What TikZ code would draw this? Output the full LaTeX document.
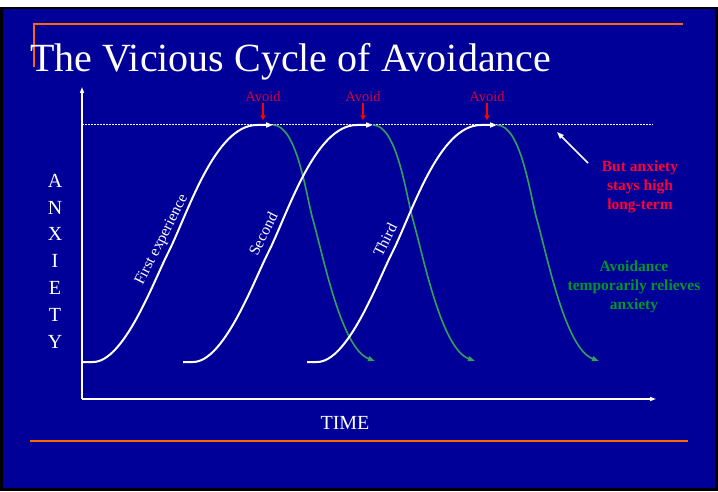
\documentclass[tikz,border=0pt]{standalone}
\usepackage{fontspec}
\setmainfont{Liberation Serif}
\usetikzlibrary{arrows.meta}

\definecolor{slideblue}{RGB}{0,0,153}
\definecolor{ruleorange}{RGB}{255,102,0}
\definecolor{avoidred}{RGB}{214,0,51}
\definecolor{alarmred}{RGB}{255,0,51}
\definecolor{dropgreen}{RGB}{51,160,90}
\definecolor{reliefgreen}{RGB}{0,150,40}

\begin{document}
\begin{tikzpicture}[
        x=1pt, y=1pt,
        rule/.style={draw=ruleorange, line width=1.5pt},
        axis/.style={
            draw=white, line width=1.3pt,
            -{Triangle[length=6pt,width=4pt]}
        },
        ceiling/.style={draw=white, line width=1pt, dash pattern=on 1.5pt off 1.5pt},
        rise/.style={
            draw=white, line width=2pt,
            -{Triangle[length=7pt,width=5pt]}
        },
        drop/.style={
            draw=dropgreen, line width=1.6pt,
            -{Triangle[length=7pt,width=5pt]}
        },
        avoidtext/.style={text=avoidred, inner sep=1pt, font=\fontsize{14.5}{16}\selectfont},
        avoidarrow/.style={
            draw=red, line width=1.5pt,
            -{Triangle[length=5pt,width=5pt]}
        },
        curvelabel/.style={text=white, inner sep=1pt, font=\fontsize{15.5}{18}\selectfont},
        axislabel/.style={text=white, align=center, inner sep=0pt},
        note/.style={align=center, inner sep=1pt},
        pointer/.style={
            draw=white, line width=1.5pt,
            -{Triangle[length=7pt,width=5pt]}
        }
    ]

    % slide background
    \fill[white] (0,0) rectangle (718,491);
    \fill[black] (0,0) rectangle (718,484);
    \fill[slideblue] (3,3) rectangle (715,482);
    \useasboundingbox (0,0) rectangle (718,491);

    \draw[rule] (34,424) -- (34,467) -- (683,467);
    \draw[rule] (30,50) -- (688,50);

    \node[anchor=base west, text=white, inner sep=0pt,
        font=\fontsize{40}{48}\selectfont] (title) at (30,419) {The Vicious Cycle of Avoidance};

    % axes
    \coordinate (origin) at (82,92);
    \coordinate (ytop) at (82,404);
    \coordinate (xend) at (656,92);
    \draw[axis] (origin) -- (ytop);
    \draw[axis] (origin) -- (xend);

    \coordinate (high) at (82,366);
    \coordinate (highend) at (653,366);
    \draw[ceiling] (high) -- (highend);

    \node[axislabel, font=\fontsize{20}{26.8}\selectfont] (anxiety) at (55,230) {A\\N\\X\\I\\E\\T\\Y};
    \node[axislabel, font=\fontsize{20}{24}\selectfont] (time) at (345,68) {TIME};

    % the three cycles
    \foreach \dx/\n in {0/1,100/2,224/3}{
        \coordinate (start\n) at (83+\dx,129);
        \coordinate (peak\n) at (273+\dx,366);
        \coordinate (low\n) at (375+\dx,130);
        \draw[rise] (start\n) -- ++(10,0)
            to[out=0,in=243,looseness=0.6] ++(75,109)
            to[out=63,in=180,looseness=0.7] ++(89,128) -- (peak\n);
        \draw[drop] (peak\n) to[out=0,in=106,looseness=0.6] ++(40,-95)
            to[out=-74,in=160,looseness=0.6] (low\n);
        \node[avoidtext] (avoid\n) at (263+\dx,394) {Avoid};
        \draw[avoidarrow] (avoid\n.south) -- ++(0,-17);
    }

    \node[curvelabel, rotate=63] (first) at (162,251) {First experience};
    \node[curvelabel, rotate=63] (second) at (263,257) {Second};
    \node[curvelabel, rotate=63] (third) at (385,251) {Third};

    % notes on the right
    \node[note, text=alarmred, font=\bfseries\fontsize{15.5}{19}\selectfont] (stays) at (640,304)
        {But anxiety\\stays high\\long-term};
    \coordinate (pointtail) at (588,328);
    \coordinate (pointhead) at (557,359);
    \draw[pointer] (pointtail) -- (pointhead);

    \node[note, text=reliefgreen, font=\bfseries\fontsize{15.5}{19}\selectfont] (relief) at (634,204)
        {Avoidance\\temporarily relieves\\anxiety};

\end{tikzpicture}
\end{document}
